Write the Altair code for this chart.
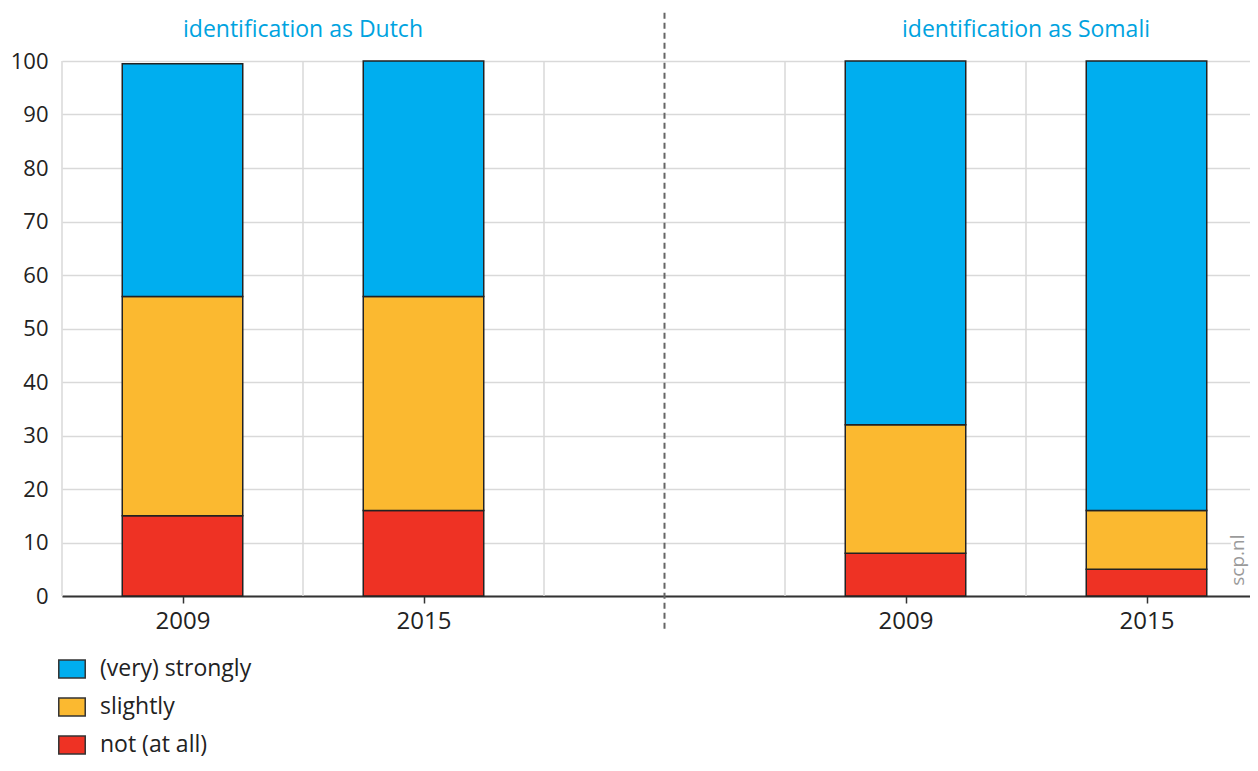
import altair as alt
import pandas as pd

# ---- data ----
years = ["2009", "2015", "2009", "2015"]
positions = [0.5, 1.5, 3.5, 4.5]
panel = ["Dutch", "Dutch", "Somali", "Somali"]
not_at_all = [15, 16, 8, 5]
slightly = [41, 40, 24, 11]
very_strongly = [43.5, 44, 68, 84]

categories = ["(very) strongly", "slightly", "not (at all)"]
colors = ["#00aeef", "#fbb930", "#ee3224"]

titles = ["identification as Dutch", "identification as Somali"]
title_x = [1.0, 4.0]
title_y = [105.8, 105.8]

grid_x = [0, 1, 2, 3, 4]
divider_x = [2.5]
y_ticks = [0, 10, 20, 30, 40, 50, 60, 70, 80, 90, 100]

# ---- build stacked table ----
rows = []
for i, p in enumerate(positions):
    base = 0.0
    for cat, vals in [("not (at all)", not_at_all), ("slightly", slightly), ("(very) strongly", very_strongly)]:
        v = vals[i]
        rows.append({"pos": p, "x0": p - 0.25, "x1": p + 0.25, "y0": base, "y1": base + v,
                     "cat": cat, "year": years[i], "panel": panel[i]})
        base += v
bars_df = pd.DataFrame(rows)

FONT = "Open Sans"
W, H = 1188, 535
XMAX = W / 241.0

xscale = alt.Scale(domain=[0, XMAX], nice=False, zero=False)
yscale = alt.Scale(domain=[0, 100], nice=False)

label_expr = "datum.value < 2 ? (datum.value < 1 ? '2009' : '2015') : (datum.value < 4 ? '2009' : '2015')"

grid = alt.Chart(pd.DataFrame({"gx": grid_x})).mark_rule(color="#d9d9d9", strokeWidth=1.5).encode(
    x=alt.X("gx:Q", scale=xscale,
            axis=alt.Axis(values=positions, labelExpr=label_expr, grid=False, title=None,
                          domainColor="#333333", domainWidth=2, tickColor="#333333", tickWidth=1.5,
                          tickSize=7, labelFontSize=24, labelFont=FONT, labelColor="#222222",
                          labelPadding=6)),
    y=alt.datum(0, scale=yscale),
    y2=alt.datum(100),
)

bars = alt.Chart(bars_df).mark_bar(stroke="#222222", strokeWidth=1.5).encode(
    x=alt.X("x0:Q", scale=xscale),
    x2="x1:Q",
    y=alt.Y("y0:Q", scale=yscale,
            axis=alt.Axis(values=y_ticks, title=None, domain=False, ticks=False,
                          grid=True, gridColor="#d9d9d9", gridWidth=1.5,
                          labelFontSize=22, labelFont=FONT, labelColor="#222222", labelPadding=14)),
    y2="y1:Q",
    color=alt.Color("cat:N", scale=alt.Scale(domain=categories, range=colors),
                    legend=alt.Legend(title=None, orient="none", legendX=-4, legendY=594,
                                      symbolType="M-1,-0.68H1V0.68H-1Z", symbolSize=700,
                                      symbolStrokeColor="#333333", symbolStrokeWidth=1.5,
                                      labelFontSize=23, labelFont=FONT, labelColor="#222222",
                                      labelOffset=14, rowPadding=12)),
)

divider = alt.Chart(pd.DataFrame({"dx": divider_x})).mark_rule(
    color="#666666", strokeWidth=2, strokeDash=[6, 4]).encode(
    x=alt.X("dx:Q", scale=xscale),
    y=alt.datum(109),
    y2=alt.datum(-6.8),
)

title_text = alt.Chart(pd.DataFrame({"t": titles, "tx": title_x, "ty": title_y})).mark_text(
    font=FONT, fontSize=23, color="#00a3e0", baseline="middle", align="center").encode(
    x=alt.X("tx:Q", scale=xscale),
    y=alt.Y("ty:Q", scale=yscale),
    text="t:N",
)

mask = alt.Chart(pd.DataFrame({"mx0": [4.85], "mx1": [XMAX], "my0": [1], "my1": [12.5]})).mark_rect(
    color="white").encode(
    x=alt.X("mx0:Q", scale=xscale), x2="mx1:Q",
    y=alt.Y("my0:Q", scale=yscale), y2="my1:Q",
)

scp = alt.Chart(pd.DataFrame({"s": ["scp.nl"], "sx": [4.88], "sy": [6.7]})).mark_text(
    font=FONT, fontSize=19, color="#9a9a9a", angle=270, align="center", baseline="middle").encode(
    x=alt.X("sx:Q", scale=xscale),
    y=alt.Y("sy:Q", scale=yscale),
    text="s:N",
)

chart = alt.layer(grid, bars, divider, title_text, mask, scp).properties(
    width=W, height=H,
    autosize=alt.AutoSizeParams(type="none"),
    padding={"left": 54, "top": 53, "right": 0, "bottom": 166},
).configure_view(stroke=None)

chart.save("out.html", embed_options={"renderer": "svg", "actions": False})
